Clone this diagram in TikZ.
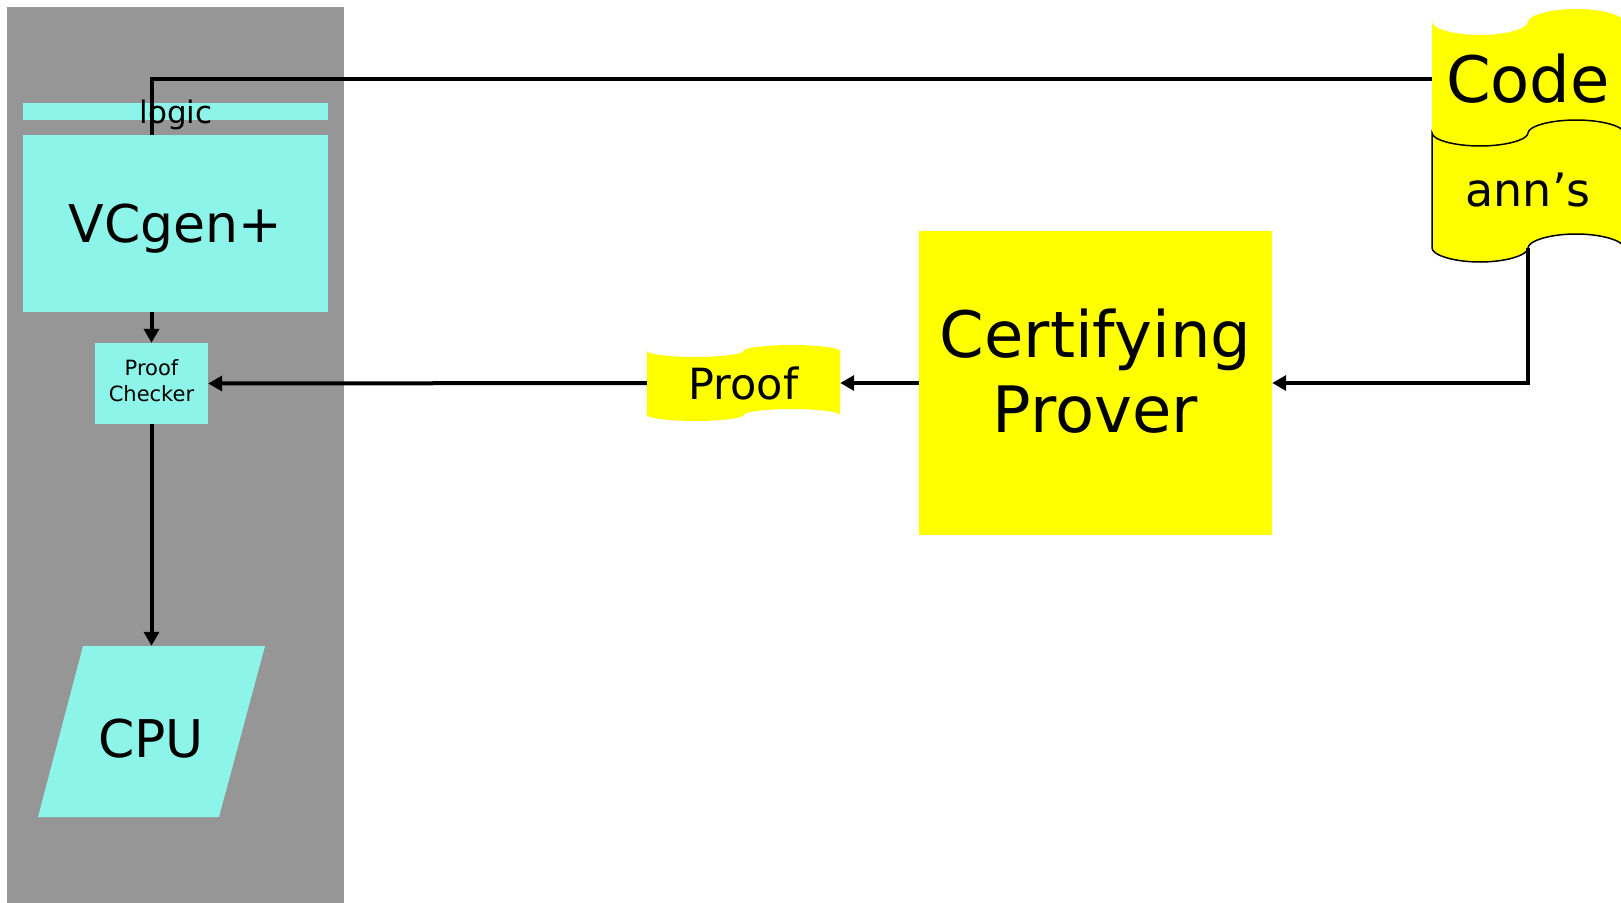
\documentclass[tikz,border=0pt]{standalone}
\usepackage{fontspec}
\setmainfont{DejaVu Sans}
\usetikzlibrary{arrows.meta}
\definecolor{panelgray}{RGB}{150,150,150}
\definecolor{aqua}{RGB}{140,244,232}
\definecolor{tapeyellow}{RGB}{255,255,0}
\newcommand\fsz[2]{\fontsize{#1}{#2}\selectfont}
% #1 style, #2 x0, #3 width, #4 top baseline, #5 top amp, #6 bottom baseline, #7 bottom amp
\newcommand\wavefill[7]{%
  \pgfmathsetmacro\wxa{#2}%
  \pgfmathsetmacro\wq{#3/4}%
  \pgfmathsetmacro\wxb{#2+\wq}%
  \pgfmathsetmacro\wxc{#2+2*\wq}%
  \pgfmathsetmacro\wxd{#2+3*\wq}%
  \pgfmathsetmacro\wxe{#2+4*\wq}%
  \pgfmathsetmacro\wkq{0.5523*\wq}%
  \pgfmathsetmacro\wta{#4+#5}%
  \pgfmathsetmacro\wtb{#4-#5}%
  \pgfmathsetmacro\wtka{#4+0.5*#5}%
  \pgfmathsetmacro\wtkb{#4-0.5*#5}%
  \pgfmathsetmacro\wba{#6+#7}%
  \pgfmathsetmacro\wbb{#6-#7}%
  \pgfmathsetmacro\wbka{#6+0.5*#7}%
  \pgfmathsetmacro\wbkb{#6-0.5*#7}%
  \path[#1] (\wxa,#4) .. controls (\wxa,\wtka) and (\wxb-\wkq,\wta) .. (\wxb,\wta)
    .. controls (\wxb+\wkq,\wta) and (\wxc,\wtka) .. (\wxc,#4)
    .. controls (\wxc,\wtkb) and (\wxd-\wkq,\wtb) .. (\wxd,\wtb)
    .. controls (\wxd+\wkq,\wtb) and (\wxe,\wtkb) .. (\wxe,#4)
    -- (\wxe,#6)
    .. controls (\wxe,\wbkb) and (\wxd+\wkq,\wbb) .. (\wxd,\wbb)
    .. controls (\wxd-\wkq,\wbb) and (\wxc,\wbkb) .. (\wxc,#6)
    .. controls (\wxc,\wbka) and (\wxb+\wkq,\wba) .. (\wxb,\wba)
    .. controls (\wxb-\wkq,\wba) and (\wxa,\wbka) .. (\wxa,#6)
    -- cycle;
}
\tikzset{
  aquabox/.style={fill=aqua, draw=none, inner sep=0pt, rectangle},
  textbox/.style={draw=none, inner sep=0pt, rectangle},
  conn/.style={line width=4pt, black},
  arr/.style={conn, -{Triangle[length=14pt,width=15pt]}},
}
\begin{document}
\begin{tikzpicture}[x=1pt,y=-1pt]
\useasboundingbox (0,0) rectangle (1621,902);
\clip (0,0) rectangle (1621,902);
% panel
\fill[panelgray] (7,7) rectangle (344,910);
% logic bar and VCgen
\node[aquabox, minimum width=305pt, minimum height=17pt] (logicbar) at (175.5,111.5) {};
\node[aquabox, minimum width=305pt, minimum height=177pt, text depth=0pt, font=\fsz{52}{52}] (vcgen) at (175.5,223.5) {VCgen+};
% tape shapes
\wavefill{fill=tapeyellow}{1432}{192}{22}{13}{140}{13}
\wavefill{fill=tapeyellow, draw=black, line width=1.5pt}{1432}{192}{133}{13}{248}{14}
\wavefill{fill=tapeyellow}{647}{193}{351}{6}{415}{6}
\node[textbox, minimum width=192pt, minimum height=114pt, font=\fsz{64}{64}] (code) at (1528,79) {Code};
\node[textbox, minimum width=192pt, minimum height=115pt, font=\fsz{46}{46}] (anns) at (1528,190.5) {ann’s};
\node[textbox, minimum width=193pt, minimum height=64pt, font=\fsz{43}{43}] (proof) at (743.5,383) {Proof};
% prover
\node[fill=tapeyellow, inner sep=0pt, minimum width=353pt, minimum height=304pt, align=center, font=\fsz{64}{75}] (prover) at (1095.5,383) {Certifying\\Prover\rule[-24pt]{0pt}{0pt}};
% checker
\node[aquabox, minimum width=113pt, minimum height=81pt, align=center, font=\fsz{21}{26}] (pc) at (151.5,383.5) {Proof\\Checker\rule[-6pt]{0pt}{0pt}};
% cpu
\fill[aqua] (83,646) -- (265,646) -- (219,817) -- (38,817) -- cycle;
\node[textbox, minimum height=171pt, text height=52pt, text depth=0pt, font=\fsz{52}{52}] (cpu) at (151,731.5) {CPU};
% connectors
\draw[conn] (code.west) -| (vcgen.north -| pc.north);
\node[textbox, anchor=base, font=\fsz{31}{31}] (logic) at (176,123) {logic};
\draw[arr] (vcgen.south -| pc.north) -- (pc.north);
\draw[arr] (pc.south) -- (pc.south |- cpu.north);
\draw[arr] (anns.south) |- (prover.east);
\draw[arr] (prover.west) -- (proof.east);
\draw[arr] (proof.west) -- (pc.east);
\end{tikzpicture}
\end{document}
